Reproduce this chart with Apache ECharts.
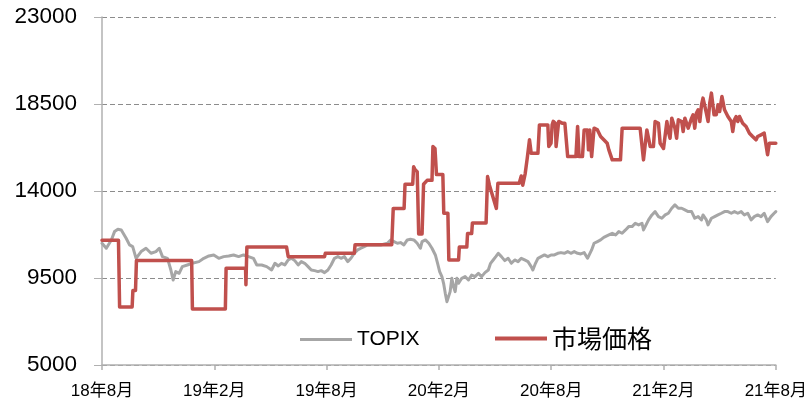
<!DOCTYPE html>
<html>
<head>
<meta charset="utf-8">
<script src="https://cdn.jsdelivr.net/npm/echarts@6/dist/echarts.min.js"></script>
<style>
html,body{margin:0;padding:0;background:#fff;}
#chart{width:810px;height:406px;}
</style>
</head>
<body>
<div id="chart"></div>
<script>
// x values: months since 2018-08 (fractional), y values: index level
const xTickLabels = ['18年8月','19年2月','19年8月','20年2月','20年8月','21年2月','21年8月'];
const seriesNames = ['TOPIX','市場価格'];

const topix = [
  [0,11296],[0.23,11037],[0.50,11469],[0.67,11900],[0.85,12021],[1.03,11987],[1.29,11555],[1.47,11210],
  [1.64,11124],[1.82,10519],[2.09,10865],[2.35,11037],[2.62,10778],[2.88,10865],[3.06,11037],[3.23,10606],
  [3.50,10519],[3.68,9915],[3.80,9398],[3.94,9829],[4.12,9743],[4.29,10088],[4.56,10174],[4.82,10261],
  [5.18,10347],[5.44,10519],[5.71,10640],[5.97,10692],[6.24,10519],[6.50,10606],[6.77,10640],[7.03,10692],
  [7.30,10606],[7.56,10692],[7.83,10606],[8.09,10519],[8.27,10174],[8.53,10174],[8.80,10088],
  [8.89,10175],[9.06,9916],[9.24,10261],[9.42,10123],[9.59,10261],[9.77,10175],[9.95,10434],[10.12,10520],
  [10.30,10399],[10.48,10175],[10.65,10347],[10.83,10261],[11.01,10088],[11.18,9916],[11.36,9881],[11.54,9830],
  [11.71,9881],[11.89,9778],[12.07,9916],[12.24,10175],[12.42,10520],[12.60,10606],[12.77,10520],[12.95,10606],
  [13.13,10347],[13.30,10520],[13.48,10779],[13.66,10951],[13.83,11038],[14.01,11124],[14.19,11210],[14.54,11210],
  [14.89,11210],[15.25,11296],[15.42,11469],[15.60,11383],[15.78,11296],[15.95,11331],[16.13,11210],[16.31,11469],
  [16.48,11504],[16.66,11469],[16.84,11296],[17.01,11038],[17.10,11383],[17.28,11469],[17.46,11296],[17.63,11038],
  [17.81,10692],[17.93,10261],[18.04,9830],
  [18.16,9570],[18.25,9225],[18.34,8707],[18.43,8276],[18.52,8362],[18.60,8793],[18.69,9484],[18.78,9052],
  [18.87,8793],[18.96,9484],[19.05,9225],[19.22,9484],[19.40,9570],[19.58,9397],[19.75,9656],[19.93,9570],
  [20.11,9743],[20.28,9570],[20.46,9777],[20.64,9915],[20.76,10260],[20.90,10433],[21.04,10606],[21.17,10778],
  [21.34,10606],[21.52,10398],[21.70,10519],[21.87,10260],[22.05,10433],[22.23,10347],[22.40,10519],[22.58,10433],
  [22.76,10347],[22.93,10088],[23.02,9915],[23.16,10260],[23.29,10519],[23.46,10606],[23.64,10692],[23.82,10606],
  [23.99,10692],[24.17,10692],[24.35,10778],[24.52,10813],[24.70,10778],[24.88,10865],[25.05,10778],[25.23,10865],
  [25.41,10778],[25.58,10744],[25.76,10813],[25.94,10519],[26.02,10433],[26.16,10951],[26.29,11296],[26.47,11383],
  [26.64,11469],[26.81,11600],
  [26.91,11641],[27.08,11727],[27.26,11813],[27.44,11727],[27.61,11900],[27.79,11813],[27.97,11986],[28.14,12159],
  [28.32,12159],[28.49,12331],[28.67,12245],[28.85,12331],[28.93,11986],[29.02,12159],[29.20,12504],[29.38,12763],
  [29.55,12935],[29.73,12676],[29.91,12590],[30.09,12763],[30.26,12849],[30.44,13108],[30.61,13281],[30.79,13108],
  [30.97,13108],[31.14,13022],[31.32,12935],[31.50,12935],[31.67,12590],[31.85,12676],[32.03,12504],[32.11,12763],
  [32.29,12504],[32.38,12245],[32.56,12590],[32.73,12676],[32.91,12763],[33.09,12849],[33.26,12935],[33.44,12935],
  [33.62,12849],[33.79,12935],[33.97,12849],[34.15,12935],[34.32,12763],[34.50,12849],[34.68,12504],[34.85,12676],
  [35.03,12763],[35.21,12676],[35.38,12849],[35.56,12418],[35.74,12676],[35.91,12849],[36.00,12935]
];

const marketPrice = [
  [0,11450],[0.88,11450],[0.94,8000],[1.61,8000],[1.65,8850],[1.79,8850],[1.84,10400],[4.79,10400],
  [4.83,7900],[6.59,7900],[6.63,10000],[7.67,10000],[7.69,9150],[7.74,11100],[9.86,11100],[9.95,10600],
  [11.89,10600],[11.93,10780],[13.48,10780],[13.52,11220],[15.48,11220],[15.56,13100],[16.14,13100],[16.19,14350],
  [16.60,14350],[16.65,15250],[16.73,15100],[16.84,15000],[16.92,11780],[17.10,11780],[17.18,14350],[17.37,14550],
  [17.63,14550],[17.68,16300],[17.79,16200],[17.87,14850],[18.21,14850],[18.26,12850],[18.48,12850],[18.53,10430],
  [19.05,10430],[19.09,11100],[19.49,11100],[19.53,11800],[19.75,11800],[19.79,12350],[20.52,12350],[20.60,14750],
  [20.70,14300],[21.07,13100],[21.15,14400],[22.29,14400],[22.40,14780],[22.48,14300],[22.61,14900],[22.72,15700],
  [22.84,16650],[22.93,15950],[23.29,15950],[23.37,17420],[23.82,17420],[23.87,16300],[23.99,16470],[24.05,17420],
  [24.11,17600],[24.22,17500],[24.26,16300],[24.35,16300],[24.40,17600],[24.61,17500],[24.73,17500],[24.88,15780],
  [25.32,15780],[25.41,17340],[25.49,15780],[25.67,15780],[25.76,17160],[25.94,17160],[25.99,16130],[26.06,17160],
  [26.16,15780],[26.29,17250],[26.47,17160],[26.64,16820],[26.81,16650],[26.99,16470],[27.08,16130],[27.17,16130],
  [27.26,15610],[27.70,15610],[27.79,17250],[28.75,17250],[28.93,15610],[29.02,15610],[29.11,17160],[29.29,16300],
  [29.46,16300],[29.55,17595],[29.73,17500],[29.82,16470],[30.00,16200],[30.18,17595],[30.26,17077],[30.35,16730],
  [30.44,17768],[30.61,17250],[30.70,16730],[30.79,17680],[30.97,17595],[31.05,17077],[31.14,17768],[31.32,17250],
  [31.50,17768],[31.58,17940],[31.67,17250],[31.76,18027],[31.85,18200],[31.94,17595],[32.03,18458],[32.11,18804],
  [32.20,18804],[32.29,18027],[32.38,17595],[32.47,18545],[32.56,19063],[32.61,19149],[32.70,17940],[32.82,17940],
  [32.91,18458],[33.00,18113],[33.12,18890],[33.21,18890],[33.26,18200],[33.44,17854],[33.53,17768],[33.62,17595],
  [33.70,17077],[33.79,17680],[33.88,17854],[33.97,17595],[34.06,17854],[34.15,17768],[34.23,17509],[34.41,17336],
  [34.59,16991],[34.76,16818],[34.94,16646],[35.03,16818],[35.21,16905],[35.38,16991],[35.47,16905],[35.56,15870],
  [35.65,16474],[36.00,16474]
];

const chart = echarts.init(document.getElementById('chart'), null, {renderer: 'canvas'});
const labelFont = "'Liberation Sans', 'Noto Sans CJK JP', sans-serif";
chart.setOption({
  animation: false,
  backgroundColor: '#ffffff',
  grid: {left: 102, right: 28, top: 17, bottom: 41, containLabel: false},
  legend: [
    {
      data: [seriesNames[0]], left: 295, top: 324, selectedMode: false,
      icon: 'rect', itemWidth: 52, itemHeight: 3, itemGap: 0,
      textStyle: {fontFamily: labelFont, fontSize: 21, color: '#000'}
    },
    {
      data: [seriesNames[1]], left: 490, top: 321, selectedMode: false,
      icon: 'rect', itemWidth: 52, itemHeight: 4, itemGap: 0,
      textStyle: {fontFamily: "'Noto Sans CJK JP', sans-serif", fontSize: 25, color: '#000'}
    }
  ],
  xAxis: {
    type: 'value', min: 0, max: 36, interval: 6,
    axisLine: {show: true, lineStyle: {color: '#b0b0b0', width: 1.5}},
    axisTick: {show: true, length: 5, lineStyle: {color: '#b0b0b0', width: 1.5}},
    splitLine: {show: false},
    axisLabel: {
      margin: 18, fontSize: 17, fontFamily: labelFont, color: '#000',
      formatter: v => xTickLabels[Math.round(v / 6)]
    }
  },
  yAxis: {
    type: 'value', min: 5000, max: 23000, interval: 4500,
    axisLine: {show: true, lineStyle: {color: '#b0b0b0', width: 1.5}},
    axisTick: {show: true, length: 8, lineStyle: {color: '#b0b0b0', width: 1}},
    splitLine: {show: true, lineStyle: {color: '#8c8c8c', type: [5, 3], width: 1}},
    axisLabel: {margin: 25, fontSize: 22.5, fontFamily: labelFont, color: '#000', formatter: v => String(v)}
  },
  series: [
    {
      name: seriesNames[0], type: 'line', data: topix, showSymbol: false, symbol: 'none',
      itemStyle: {color: '#a6a6a6'},
      lineStyle: {color: '#a6a6a6', width: 3, join: 'round', cap: 'round'}
    },
    {
      name: seriesNames[1], type: 'line', data: marketPrice, showSymbol: false, symbol: 'none',
      itemStyle: {color: '#c0504d'},
      lineStyle: {color: '#c0504d', width: 3.5, join: 'round', cap: 'round'}
    }
  ]
});
</script>
</body>
</html>
